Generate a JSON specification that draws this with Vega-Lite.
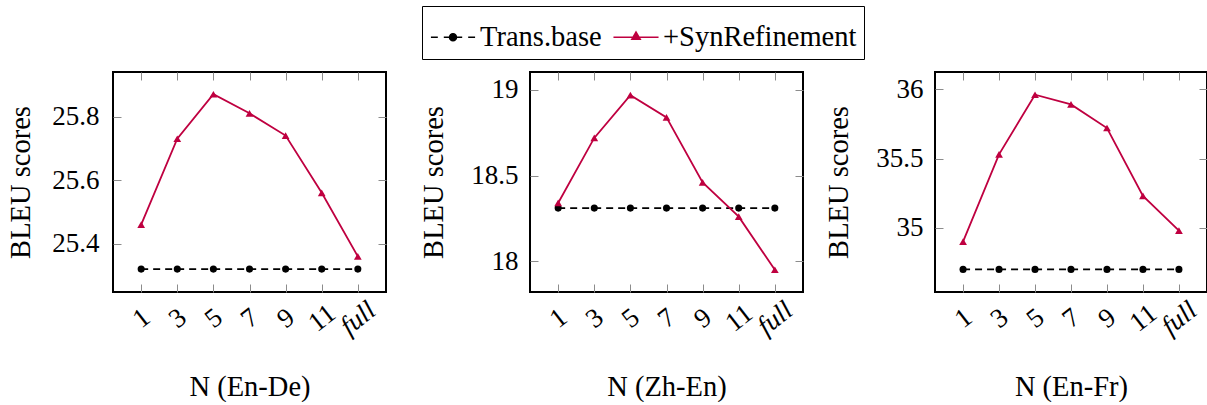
{
  "$schema": "https://vega.github.io/schema/vega-lite/v6.json",
  "background": "white",
  "padding": {"left": 5, "top": 5, "right": 4, "bottom": 0},
  "datasets": {
    "de": [
      {"n": "1", "series": "Trans.base", "bleu": 25.32},
      {"n": "3", "series": "Trans.base", "bleu": 25.32},
      {"n": "5", "series": "Trans.base", "bleu": 25.32},
      {"n": "7", "series": "Trans.base", "bleu": 25.32},
      {"n": "9", "series": "Trans.base", "bleu": 25.32},
      {"n": "11", "series": "Trans.base", "bleu": 25.32},
      {"n": "full", "series": "Trans.base", "bleu": 25.32},
      {"n": "1", "series": "+SynRefinement", "bleu": 25.46},
      {"n": "3", "series": "+SynRefinement", "bleu": 25.73},
      {"n": "5", "series": "+SynRefinement", "bleu": 25.87},
      {"n": "7", "series": "+SynRefinement", "bleu": 25.81},
      {"n": "9", "series": "+SynRefinement", "bleu": 25.74},
      {"n": "11", "series": "+SynRefinement", "bleu": 25.56},
      {"n": "full", "series": "+SynRefinement", "bleu": 25.36}
    ],
    "zh": [
      {"n": "1", "series": "Trans.base", "bleu": 18.31},
      {"n": "3", "series": "Trans.base", "bleu": 18.31},
      {"n": "5", "series": "Trans.base", "bleu": 18.31},
      {"n": "7", "series": "Trans.base", "bleu": 18.31},
      {"n": "9", "series": "Trans.base", "bleu": 18.31},
      {"n": "11", "series": "Trans.base", "bleu": 18.31},
      {"n": "full", "series": "Trans.base", "bleu": 18.31},
      {"n": "1", "series": "+SynRefinement", "bleu": 18.34},
      {"n": "3", "series": "+SynRefinement", "bleu": 18.72},
      {"n": "5", "series": "+SynRefinement", "bleu": 18.97},
      {"n": "7", "series": "+SynRefinement", "bleu": 18.84},
      {"n": "9", "series": "+SynRefinement", "bleu": 18.46},
      {"n": "11", "series": "+SynRefinement", "bleu": 18.26},
      {"n": "full", "series": "+SynRefinement", "bleu": 17.95}
    ],
    "fr": [
      {"n": "1", "series": "Trans.base", "bleu": 34.70},
      {"n": "3", "series": "Trans.base", "bleu": 34.70},
      {"n": "5", "series": "Trans.base", "bleu": 34.70},
      {"n": "7", "series": "Trans.base", "bleu": 34.70},
      {"n": "9", "series": "Trans.base", "bleu": 34.70},
      {"n": "11", "series": "Trans.base", "bleu": 34.70},
      {"n": "full", "series": "Trans.base", "bleu": 34.70},
      {"n": "1", "series": "+SynRefinement", "bleu": 34.90},
      {"n": "3", "series": "+SynRefinement", "bleu": 35.53},
      {"n": "5", "series": "+SynRefinement", "bleu": 35.96},
      {"n": "7", "series": "+SynRefinement", "bleu": 35.89},
      {"n": "9", "series": "+SynRefinement", "bleu": 35.72},
      {"n": "11", "series": "+SynRefinement", "bleu": 35.23},
      {"n": "full", "series": "+SynRefinement", "bleu": 34.98}
    ]
  },
  "hconcat": [
    {
      "spacing": 30,
      "hconcat": [
        {
          "width": 273, "height": 220,
          "data": {"name": "de"},
          "layer": [
            {
              "layer": [
                {
                  "transform": [{"filter": "datum.series === 'Trans.base'"}],
                  "mark": {"type": "line", "strokeWidth": 1.8, "color": "#000000", "strokeDash": [7, 5]},
                  "encoding": {
                    "x": {"field": "n", "type": "ordinal", "scale": {"type": "point", "domain": ["1","3","5","7","9","11","full"], "padding": 0.78},
                          "axis": {"orient": "bottom", "labelAngle": -38, "labelAlign": "center", "labelBaseline": "middle", "labelPadding": 34, "labelOverlap": false,
                                   "labelFontStyle": {"condition": {"test": "datum.value === 'full'", "value": "italic"}, "value": "normal"},
                                   "title": "N (En-De)", "titlePadding": 33}},
                    "y": {"field": "bleu", "type": "quantitative", "scale": {"domain": [25.248, 25.94], "nice": false, "zero": false},
                          "axis": {"orient": "left", "values": [25.4, 25.6, 25.8], "format": "~g", "labelPadding": 22, "title": "BLEU scores", "titlePadding": 16}}
                  }
                },
                {
                  "transform": [{"filter": "datum.series === '+SynRefinement'"}],
                  "mark": {"type": "line", "strokeWidth": 1.8, "color": "#BF0040"},
                  "encoding": {"x": {"field": "n", "type": "ordinal"}, "y": {"field": "bleu", "type": "quantitative"}}
                },
                {
                  "transform": [{"filter": "datum.series === 'Trans.base'"}],
                  "mark": {"type": "point", "filled": true, "opacity": 1, "shape": "circle", "size": 50, "color": "#000000"},
                  "encoding": {"x": {"field": "n", "type": "ordinal"}, "y": {"field": "bleu", "type": "quantitative"}}
                },
                {
                  "transform": [{"filter": "datum.series === '+SynRefinement'"}],
                  "mark": {"type": "point", "filled": true, "opacity": 1, "shape": "triangle-up", "size": 60, "color": "#BF0040"},
                  "encoding": {"x": {"field": "n", "type": "ordinal"}, "y": {"field": "bleu", "type": "quantitative"}}
                },
                {
                  "mark": {"type": "point", "filled": true, "opacity": 0},
                  "encoding": {
                    "x": {"field": "n", "type": "ordinal"}, "y": {"field": "bleu", "type": "quantitative"},
                    "shape": {"field": "series", "type": "nominal",
                              "scale": {"domain": ["Trans.base", "+SynRefinement"], "range": ["M-0.96,0H-0.66M-0.4,0H0.4M0.66,0H0.96M0.15,0A0.15,0.15,0,1,1,-0.15,0A0.15,0.15,0,1,1,0.15,0Z", "M-0.98,0H0.98M-0.18,0.09L0,-0.22L0.18,0.09Z"]},
                              "legend": {"orient": "none", "legendX": 309, "legendY": -66, "direction": "horizontal", "title": null,
                                         "strokeColor": "#000000", "fillColor": "#ffffff", "padding": 7, "columnPadding": 8, "labelOffset": 3,
                                         "labelFont": "Liberation Serif", "labelFontSize": 28.5, "labelColor": "#000000", "labelLimit": 400,
                                         "symbolSize": 2116, "symbolStrokeWidth": 1.6, "symbolOpacity": 1}},
                    "fill": {"field": "series", "type": "nominal", "scale": {"domain": ["Trans.base", "+SynRefinement"], "range": ["#000000", "#BF0040"]},
                              "legend": {"orient": "none", "legendX": 309, "legendY": -66, "direction": "horizontal", "title": null,
                                         "strokeColor": "#000000", "fillColor": "#ffffff", "padding": 7, "columnPadding": 8, "labelOffset": 3,
                                         "labelFont": "Liberation Serif", "labelFontSize": 28.5, "labelColor": "#000000", "labelLimit": 400,
                                         "symbolSize": 2116, "symbolStrokeWidth": 1.6, "symbolOpacity": 1}},
                    "stroke": {"field": "series", "type": "nominal", "scale": {"domain": ["Trans.base", "+SynRefinement"], "range": ["#000000", "#BF0040"]},
                              "legend": {"orient": "none", "legendX": 309, "legendY": -66, "direction": "horizontal", "title": null,
                                         "strokeColor": "#000000", "fillColor": "#ffffff", "padding": 7, "columnPadding": 8, "labelOffset": 3,
                                         "labelFont": "Liberation Serif", "labelFontSize": 28.5, "labelColor": "#000000", "labelLimit": 400,
                                         "symbolSize": 2116, "symbolStrokeWidth": 1.6, "symbolOpacity": 1}}
                  }
                }
              ]
            },
            {
              "mark": {"type": "point", "opacity": 0},
              "encoding": {
                "x": {"field": "n", "type": "ordinal", "scale": {"type": "point", "domain": ["1","3","5","7","9","11","full"], "padding": 0.78},
                      "axis": {"orient": "top", "labels": false, "title": null}},
                "y": {"field": "bleu", "type": "quantitative", "scale": {"domain": [25.248, 25.94], "nice": false, "zero": false},
                      "axis": {"orient": "right", "labels": false, "title": null, "values": [25.4, 25.6, 25.8]}}
              }
            }
          ],
          "resolve": {"scale": {"x": "independent", "y": "independent"}}
        },
        {
          "width": 273, "height": 220,
          "data": {"name": "zh"},
          "layer": [
            {
              "layer": [
                {
                  "transform": [{"filter": "datum.series === 'Trans.base'"}],
                  "mark": {"type": "line", "strokeWidth": 1.8, "color": "#000000", "strokeDash": [7, 5]},
                  "encoding": {
                    "x": {"field": "n", "type": "ordinal", "scale": {"type": "point", "domain": ["1","3","5","7","9","11","full"], "padding": 0.78},
                          "axis": {"orient": "bottom", "labelAngle": -38, "labelAlign": "center", "labelBaseline": "middle", "labelPadding": 34, "labelOverlap": false,
                                   "labelFontStyle": {"condition": {"test": "datum.value === 'full'", "value": "italic"}, "value": "normal"},
                                   "title": "N (Zh-En)", "titlePadding": 33}},
                    "y": {"field": "bleu", "type": "quantitative", "scale": {"domain": [17.82, 19.105], "nice": false, "zero": false},
                          "axis": {"orient": "left", "values": [18, 18.5, 19], "format": "~g", "labelPadding": 20, "title": "BLEU scores", "titlePadding": 22}}
                  }
                },
                {
                  "transform": [{"filter": "datum.series === '+SynRefinement'"}],
                  "mark": {"type": "line", "strokeWidth": 1.8, "color": "#BF0040"},
                  "encoding": {"x": {"field": "n", "type": "ordinal"}, "y": {"field": "bleu", "type": "quantitative"}}
                },
                {
                  "transform": [{"filter": "datum.series === 'Trans.base'"}],
                  "mark": {"type": "point", "filled": true, "opacity": 1, "shape": "circle", "size": 50, "color": "#000000"},
                  "encoding": {"x": {"field": "n", "type": "ordinal"}, "y": {"field": "bleu", "type": "quantitative"}}
                },
                {
                  "transform": [{"filter": "datum.series === '+SynRefinement'"}],
                  "mark": {"type": "point", "filled": true, "opacity": 1, "shape": "triangle-up", "size": 60, "color": "#BF0040"},
                  "encoding": {"x": {"field": "n", "type": "ordinal"}, "y": {"field": "bleu", "type": "quantitative"}}
                }
              ]
            },
            {
              "mark": {"type": "point", "opacity": 0},
              "encoding": {
                "x": {"field": "n", "type": "ordinal", "scale": {"type": "point", "domain": ["1","3","5","7","9","11","full"], "padding": 0.78},
                      "axis": {"orient": "top", "labels": false, "title": null}},
                "y": {"field": "bleu", "type": "quantitative", "scale": {"domain": [17.82, 19.105], "nice": false, "zero": false},
                      "axis": {"orient": "right", "labels": false, "title": null, "values": [18, 18.5, 19]}}
              }
            }
          ],
          "resolve": {"scale": {"x": "independent", "y": "independent"}}
        }
      ]
    },
    {
      "width": 272, "height": 220,
      "data": {"name": "fr"},
      "layer": [
        {
          "layer": [
            {
              "transform": [{"filter": "datum.series === 'Trans.base'"}],
              "mark": {"type": "line", "strokeWidth": 1.8, "color": "#000000", "strokeDash": [7, 5]},
              "encoding": {
                "x": {"field": "n", "type": "ordinal", "scale": {"type": "point", "domain": ["1","3","5","7","9","11","full"], "padding": 0.78},
                      "axis": {"orient": "bottom", "labelAngle": -38, "labelAlign": "center", "labelBaseline": "middle", "labelPadding": 34, "labelOverlap": false,
                               "labelFontStyle": {"condition": {"test": "datum.value === 'full'", "value": "italic"}, "value": "normal"},
                               "title": "N (En-Fr)", "titlePadding": 33}},
                "y": {"field": "bleu", "type": "quantitative", "scale": {"domain": [34.537, 36.124], "nice": false, "zero": false},
                      "axis": {"orient": "left", "values": [35, 35.5, 36], "format": "~g", "labelPadding": 20, "title": "BLEU scores", "titlePadding": 22}}
              }
            },
            {
              "transform": [{"filter": "datum.series === '+SynRefinement'"}],
              "mark": {"type": "line", "strokeWidth": 1.8, "color": "#BF0040"},
              "encoding": {"x": {"field": "n", "type": "ordinal"}, "y": {"field": "bleu", "type": "quantitative"}}
            },
            {
              "transform": [{"filter": "datum.series === 'Trans.base'"}],
              "mark": {"type": "point", "filled": true, "opacity": 1, "shape": "circle", "size": 50, "color": "#000000"},
              "encoding": {"x": {"field": "n", "type": "ordinal"}, "y": {"field": "bleu", "type": "quantitative"}}
            },
            {
              "transform": [{"filter": "datum.series === '+SynRefinement'"}],
              "mark": {"type": "point", "filled": true, "opacity": 1, "shape": "triangle-up", "size": 60, "color": "#BF0040"},
              "encoding": {"x": {"field": "n", "type": "ordinal"}, "y": {"field": "bleu", "type": "quantitative"}}
            }
          ]
        },
        {
          "mark": {"type": "point", "opacity": 0},
          "encoding": {
            "x": {"field": "n", "type": "ordinal", "scale": {"type": "point", "domain": ["1","3","5","7","9","11","full"], "padding": 0.78},
                  "axis": {"orient": "top", "labels": false, "title": null}},
            "y": {"field": "bleu", "type": "quantitative", "scale": {"domain": [34.537, 36.124], "nice": false, "zero": false},
                  "axis": {"orient": "right", "labels": false, "title": null, "values": [35, 35.5, 36]}}
          }
        }
      ],
      "resolve": {"scale": {"x": "independent", "y": "independent"}}
    }
  ],
  "spacing": 18,
  "config": {
    "font": "Liberation Serif",
    "view": {"stroke": "#000000", "strokeWidth": 2},
    "axis": {
      "domain": false, "grid": false, "ticks": true, "tickSize": -8, "tickColor": "#8c8c8c", "tickWidth": 1,
      "labelFont": "Liberation Serif", "labelFontSize": 27, "labelColor": "#000000",
      "titleFont": "Liberation Serif", "titleFontSize": 28.5, "titleFontWeight": "normal", "titleColor": "#000000"
    }
  }
}
